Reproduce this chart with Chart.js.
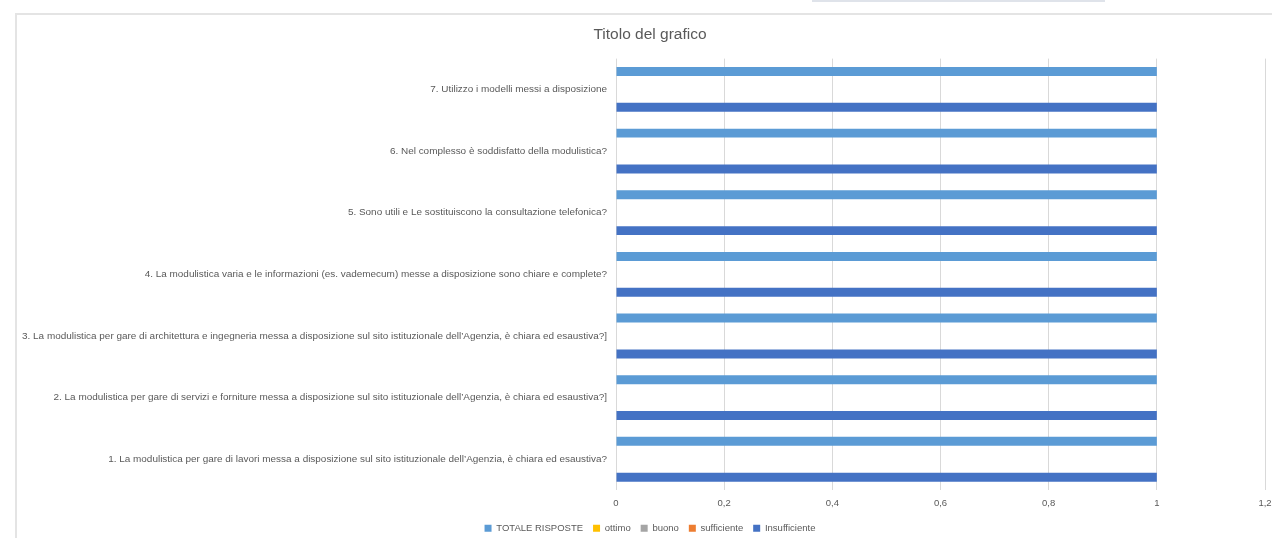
<!DOCTYPE html>
<html>
<head>
<meta charset="utf-8">
<script src="https://cdn.jsdelivr.net/npm/chart.js@4"></script>
<style>
  html, body { margin: 0; padding: 0; background: #fff; overflow: hidden; }
  body { width: 1272px; height: 538px; position: relative; }
  #frame { position: absolute; left: 15px; top: 13px; width: 1300px; height: 600px; border: 2px solid #e4e4e4; box-sizing: border-box; }
  #topbar { position: absolute; left: 812px; top: 0; width: 293px; height: 2px; background: #dfe3ea; }
  #wrap { position: absolute; left: 0; top: 0; width: 1284px; height: 545px; }
</style>
</head>
<body>
<div id="topbar"></div>
<div id="frame"></div>
<div id="wrap"><canvas id="chart"></canvas></div>
<script>
// questions, top to bottom as shown
const categories = [
  '7. Utilizzo i modelli messi a disposizione',
  '6. Nel complesso è soddisfatto della modulistica?',
  '5. Sono utili e Le sostituiscono la consultazione telefonica?',
  '4. La modulistica varia e le informazioni (es. vademecum) messe a disposizione sono chiare e complete?',
  '3. La modulistica per gare di architettura e ingegneria messa a disposizione sul sito istituzionale dell’Agenzia, è chiara ed esaustiva?]',
  '2. La modulistica per gare di servizi e forniture messa a disposizione sul sito istituzionale dell’Agenzia, è chiara ed esaustiva?]',
  '1. La modulistica per gare di lavori messa a disposizione sul sito istituzionale dell’Agenzia, è chiara ed esaustiva?'
];

const totaleRisposte = [1, 1, 1, 1, 1, 1, 1];
const ottimo = [0, 0, 0, 0, 0, 0, 0];
const buono = [0, 0, 0, 0, 0, 0, 0];
const sufficiente = [0, 0, 0, 0, 0, 0, 0];
const insufficiente = [1, 1, 1, 1, 1, 1, 1];

const xTickLabels = ['0', '0,2', '0,4', '0,6', '0,8', '1', '1,2'];

const txt = '#595959';
const font = 'Liberation Sans';

new Chart(document.getElementById('chart'), {
  type: 'bar',
  data: {
    labels: categories,
    datasets: [
      { label: 'TOTALE RISPOSTE', data: totaleRisposte, backgroundColor: '#5B9BD5' },
      { label: 'ottimo', data: ottimo, backgroundColor: '#FFC000' },
      { label: 'buono', data: buono, backgroundColor: '#A5A5A5' },
      { label: 'sufficiente', data: sufficiente, backgroundColor: '#ED7D31' },
      { label: 'Insufficiente', data: insufficiente, backgroundColor: '#4472C4' }
    ]
  },
  options: {
    indexAxis: 'y',
    responsive: true,
    maintainAspectRatio: false,
    animation: false,
    datasets: { bar: { categoryPercentage: 0.727, barPercentage: 1.0, borderWidth: 0 } },
    layout: { padding: { left: 35, right: 19, top: 14, bottom: 2 } },
    plugins: {
      title: {
        display: true,
        text: 'Titolo del grafico',
        color: txt,
        font: { family: font, size: 15.5, weight: 'normal' },
        padding: { top: 11, bottom: 15 }
      },
      legend: {
        position: 'bottom',
        labels: {
          color: txt,
          boxWidth: 7,
          boxHeight: 7,
          padding: 10,
          font: { family: font, size: 9.5 }
        }
      },
      tooltip: { enabled: false }
    },
    scales: {
      x: {
        min: 0,
        max: 1.2,
        afterFit: s => { s.height = s.height - 4; },
        ticks: {
          stepSize: 0.2,
          color: txt,
          padding: 8,
          font: { family: font, size: 9.5 },
          callback: (v, i) => xTickLabels[i]
        },
        grid: { color: '#d9d9d9', drawTicks: false },
        border: { display: false }
      },
      y: {
        afterFit: s => {
          s.width = 581;
          // long questions run past the frame on the left, don't clip them
          s._computeLabelArea = () => undefined;
        },
        ticks: {
          color: txt,
          padding: 9,
          font: { family: font, size: 9.95 }
        },
        grid: { display: false, drawTicks: false },
        border: { display: false }
      }
    }
  }
});
</script>
</body>
</html>
